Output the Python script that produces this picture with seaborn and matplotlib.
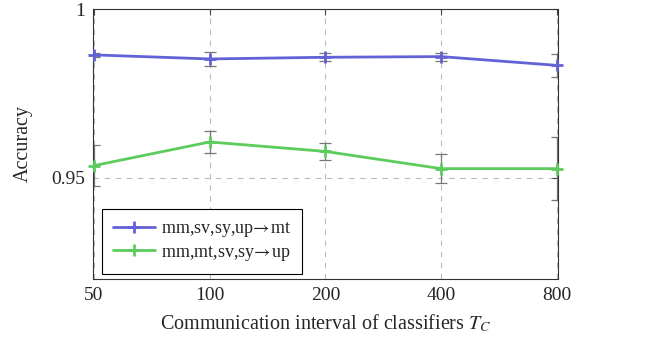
import numpy as np
import pandas as pd
import matplotlib
matplotlib.use("Agg")
import matplotlib.pyplot as plt
import seaborn as sns

intervals = [50, 100, 200, 400, 800]
tick_labels = ["50", "100", "200", "400", "800"]
series_names = [r"mm,sv,sy,up$\!\rightarrow\!$mt", r"mm,mt,sv,sy$\!\rightarrow\!$up"]
acc_mt = [0.9864, 0.9852, 0.9857, 0.9859, 0.9833]
err_mt = [0.0005, 0.0021, 0.0012, 0.0012, 0.0034]
acc_up = [0.9536, 0.9606, 0.9578, 0.9527, 0.9527]
err_up = [0.0060, 0.0032, 0.0025, 0.0043, 0.0093]
colors = ["#6262d6", "#5ccc5c"]

sns.set_style("white")
plt.rcParams['font.family'] = ['Liberation Serif', 'DejaVu Serif']
plt.rcParams['mathtext.fontset'] = 'stix'

df = pd.DataFrame({
    "x": intervals * 2,
    "acc": acc_mt + acc_up,
    "err": err_mt + err_up,
    "series": [series_names[0]] * 5 + [series_names[1]] * 5,
})

fig = plt.figure(figsize=(6.57, 3.45), dpi=100)
ax = fig.add_axes([93 / 657, 1 - 279 / 345, (558 - 93) / 657, (279 - 9) / 345])

for name, col in zip(series_names, colors):
    sub = df[df.series == name]
    ax.errorbar(sub.x, sub.acc, yerr=sub.err, fmt="none", ecolor="#777777",
                elinewidth=0.9, capsize=4, capthick=0.9, zorder=2, clip_on=True)

for name, col in zip(series_names, colors):
    sub = df[df.series == name]
    sns.lineplot(data=sub, x="x", y="acc", color=col, label=name,
                 marker="+", markersize=9, markeredgewidth=2.0,
                 markeredgecolor=col, linewidth=2.0,
                 ax=ax, zorder=3, clip_on=False)

ax.set_xscale("log", base=2)
ax.set_xlim(49.7, 806)
ax.set_ylim(0.92, 1.0)
ax.set_xticks(intervals)
ax.set_xticklabels(tick_labels)
ax.xaxis.set_minor_locator(matplotlib.ticker.NullLocator())
ax.set_yticks([0.95, 1.0])
ax.set_yticklabels(["0.95", "1"])
ax.grid(True, linestyle=(0, (5, 5)), color="#bbbbbb", linewidth=0.8)
ax.tick_params(direction="in", length=4, labelsize=14, pad=6, top=True, right=True, color="#444444")
for s in ax.spines.values():
    s.set_color("#333333")
    s.set_linewidth(0.8)
ax.set_xlabel("Communication interval of classifiers $T_C$", fontsize=14.5, labelpad=6)
ax.set_ylabel("Accuracy", fontsize=14.5, labelpad=13)

leg = ax.legend(loc="lower left", bbox_to_anchor=(0.02, 0.02), fontsize=13,
                frameon=True, fancybox=False, edgecolor="black", framealpha=1,
                handlelength=2.3, handletextpad=0.35, borderpad=0.6, labelspacing=0.25,
                borderaxespad=0.0)
leg.get_frame().set_linewidth(0.8)

fig.savefig("out.png", dpi=100)
